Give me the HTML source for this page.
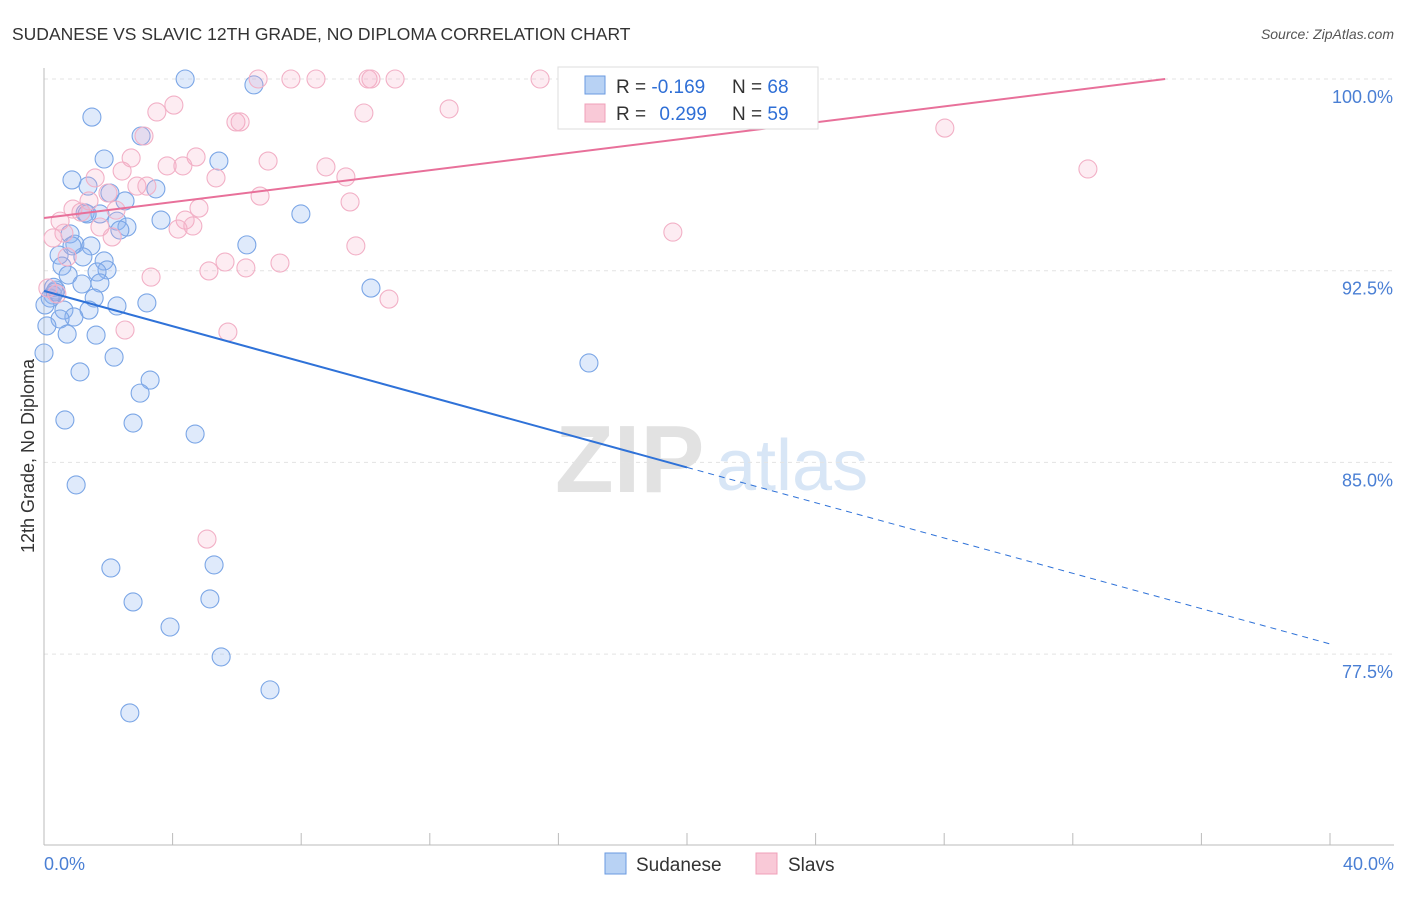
<!DOCTYPE html>
<html><head><meta charset="utf-8"><style>
body{margin:0;background:#fff;font-family:"Liberation Sans",sans-serif;}
svg text{font-family:"Liberation Sans",sans-serif;}
</style></head><body>
<svg id="chart" width="1406" height="892" viewBox="0 0 1406 892" xmlns="http://www.w3.org/2000/svg">
<text x="12" y="40" font-size="17.5" fill="#333">SUDANESE VS SLAVIC 12TH GRADE, NO DIPLOMA CORRELATION CHART</text>
<text x="1394" y="39" font-size="14" fill="#555" font-style="italic" text-anchor="end">Source: ZipAtlas.com</text>
<g>
<text x="555" y="492" font-size="96" fill="#e2e2e2" font-family="Liberation Serif,serif" font-weight="bold">ZIP</text>
<text x="716" y="490" font-size="72" fill="#d8e6f6">atlas</text>
</g>
<g id="grid"></g>
<g id="axes"></g>
<g id="pts"></g>
<g id="lines"></g>
<text transform="translate(34,456) rotate(-90)" font-size="18" fill="#333" text-anchor="middle">12th Grade, No Diploma</text>
<text x="44" y="870" font-size="18" fill="#4a7fd4">0.0%</text>
<text x="1394" y="870" font-size="18" fill="#4a7fd4" text-anchor="end">40.0%</text>
<g>
<rect x="558" y="67" width="260" height="62" fill="#fff" stroke="#ddd"/>
<rect x="585" y="76" width="20" height="18" fill="#b8d2f4" stroke="#6a9ae0"/>
<rect x="585" y="104" width="20" height="18" fill="#f9c9d7" stroke="#f0a0b8"/>
<text x="616" y="93" font-size="19" fill="#333">R = <tspan fill="#2f6fd6">-0.169</tspan></text>
<text x="732" y="93" font-size="19" fill="#333">N = <tspan fill="#2f6fd6">68</tspan></text>
<text x="616" y="120" font-size="19" fill="#333">R = <tspan fill="#2f6fd6" dx="8">0.299</tspan></text>
<text x="732" y="120" font-size="19" fill="#333">N = <tspan fill="#2f6fd6">59</tspan></text>
</g>
<g>
<rect x="605" y="853" width="21" height="21" fill="#b8d2f4" stroke="#6a9ae0"/>
<text x="636" y="871" font-size="19" fill="#333">Sudanese</text>
<rect x="756" y="853" width="21" height="21" fill="#f9c9d7" stroke="#f0a0b8"/>
<text x="788" y="871" font-size="19" fill="#333">Slavs</text>
</g>
</svg>
<script>
const yTicks=[100,92.5,85,77.5];
const yTickLabels=["100.0%","92.5%","85.0%","77.5%"];
const xTicks=[0,4,8,12,16,20,24,28,32,36,40];
const sudX=[4.39,6.53,1.49,3.02,1.87,5.44,0.87,1.37,3.48,2.05,2.52,1.28,1.74,2.27,3.64,2.58,2.36,7.99,0.81,0.96,1.46,6.31,0.47,1.21,1.87,0.56,1.96,1.65,0.75,1.18,1.74,0.37,0.28,0.19,1.56,3.20,2.27,1.40,0.62,0.93,0.50,0.09,0.72,1.62,0,2.18,16.95,1.12,3.30,2.99,0.65,2.77,4.70,1.00,2.08,5.29,2.77,5.16,3.92,5.51,7.03,2.67,10.17,0.30,0.34,0.03,1.34,0.87];
const sudY=[100,99.77,98.51,97.77,96.87,96.79,96.05,95.81,95.70,95.54,95.23,94.76,94.72,94.44,94.48,94.21,94.09,94.72,93.94,93.54,93.47,93.51,93.11,93.04,92.88,92.68,92.53,92.45,92.33,91.98,92.02,91.74,91.55,91.43,91.43,91.24,91.12,90.96,90.96,90.69,90.61,90.34,90.02,89.98,89.28,89.12,88.89,88.54,88.22,87.71,86.66,86.54,86.11,84.12,80.87,80.99,79.54,79.66,78.56,77.39,76.10,75.20,91.82,91.85,91.67,91.16,94.72,93.47];
const slavX=[6.66,7.68,8.46,10.08,10.17,10.92,15.43,16.98,4.04,3.51,5.97,6.10,9.95,12.60,3.11,28.02,2.71,4.73,6.97,8.77,32.47,3.83,2.43,1.59,5.35,2.89,3.20,9.39,1.99,6.72,1.40,9.52,0.90,4.82,2.24,1.15,0.50,4.39,1.74,4.63,4.17,0.62,2.12,0.28,9.70,19.56,0.72,5.63,5.13,6.28,7.34,3.33,10.73,0.12,0.40,2.52,5.72,5.07,4.32];
const slavY=[100,100,100,100,100,100,100,100,98.98,98.71,98.32,98.32,98.67,98.83,97.77,98.08,96.91,96.95,96.79,96.56,96.48,96.60,96.40,96.13,96.13,95.81,95.81,96.17,95.54,95.42,95.23,95.19,94.91,94.95,94.87,94.79,94.44,94.48,94.21,94.25,94.13,93.97,93.82,93.78,93.47,94.01,93.04,92.84,92.49,92.61,92.80,92.25,91.39,91.82,91.59,90.18,90.10,82.00,96.60];
const sudTrend=[91.71,-0.3453];
const slavTrend=[94.56,0.156];
const X=v=>44+v*32.15, Y=v=>79+(100-v)*25.56;
const NS="http://www.w3.org/2000/svg";
function mk(t,a,p){const e=document.createElementNS(NS,t);for(const k in a)e.setAttribute(k,a[k]);document.getElementById(p).appendChild(e);return e;}
yTicks.forEach((t,i)=>{
 const l=mk('line',{x1:44,x2:1394,y1:Y(t),y2:Y(t),stroke:'#e3e3e3','stroke-dasharray':'4,4'},'grid');
 
 
 const tx=mk('text',{x:1393,y:Y(t)+24,'font-size':18,fill:'#4a7fd4','text-anchor':'end'},'grid');
 tx.textContent=yTickLabels[i];
 
 
});
const ax=mk('line',{x1:44,x2:1394,y1:845,y2:845,stroke:'#bbb'},'axes');


const ay=mk('line',{x1:44,x2:44,y1:68,y2:845,stroke:'#bbb'},'axes');


xTicks.forEach(t=>{const l=mk('line',{x1:X(t),x2:X(t),y1:833,y2:845,stroke:'#bbb'},'axes');
 
 });
sudX.forEach((x,i)=>{const c=mk('circle',{cx:X(x),cy:Y(sudY[i]),r:9,fill:'rgba(140,180,240,0.28)',stroke:'#7ba6e6','stroke-width':1.1},'pts');
 
 });
slavX.forEach((x,i)=>{const c=mk('circle',{cx:X(x),cy:Y(slavY[i]),r:9,fill:'rgba(245,170,195,0.22)',stroke:'#f2b0c6','stroke-width':1.1},'pts');
 
 });
const sf=x=>sudTrend[0]+sudTrend[1]*x;
const l1=mk('line',{x1:X(0),y1:Y(sf(0)),x2:X(20),y2:Y(sf(20)),stroke:'#2f72d8','stroke-width':2},'lines');


const l2=mk('line',{x1:X(20),y1:Y(sf(20)),x2:X(40),y2:Y(sf(40)),stroke:'#2f72d8','stroke-width':1,'stroke-dasharray':'6,5'},'lines');


const xe=(100-slavTrend[0])/slavTrend[1];
const l3=mk('line',{x1:X(0),y1:Y(slavTrend[0]),x2:X(xe),y2:Y(100),stroke:'#e8709a','stroke-width':2},'lines');


</script>
</body></html>
